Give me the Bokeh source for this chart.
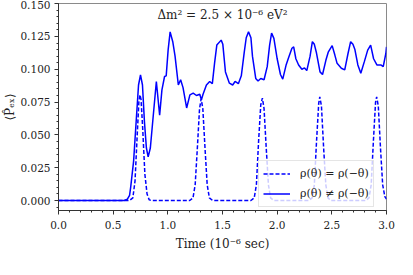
from bokeh.plotting import figure
from bokeh.models import Range1d, NumeralTickFormatter, Label, Legend, LegendItem, ColumnDataSource, SingleIntervalTicker
from bokeh.embed import file_html
from bokeh.resources import INLINE

# ---- data ----
t_sym = [0.0, 0.65, 0.68, 0.70, 0.72, 0.735, 0.745, 0.755, 0.77, 0.79, 0.81, 0.83, 0.86,
         1.20, 1.23, 1.25, 1.27, 1.29, 1.305, 1.32, 1.34, 1.36, 1.38, 1.41,
         1.76, 1.79, 1.81, 1.83, 1.85, 1.865, 1.88, 1.90, 1.92, 1.94, 1.97,
         2.29, 2.32, 2.34, 2.36, 2.38, 2.39, 2.405, 2.425, 2.445, 2.465, 2.49,
         2.81, 2.84, 2.86, 2.88, 2.90, 2.91, 2.925, 2.945, 2.965, 2.985, 3.0]
p_sym = [0.0, 0.0, 0.002, 0.015, 0.05, 0.075, 0.0805, 0.077, 0.055, 0.02, 0.005, 0.0005, 0.0,
         0.0, 0.002, 0.012, 0.04, 0.07, 0.0775, 0.07, 0.04, 0.012, 0.002, 0.0,
         0.0, 0.002, 0.012, 0.045, 0.073, 0.078, 0.07, 0.04, 0.012, 0.002, 0.0,
         0.0, 0.002, 0.012, 0.045, 0.074, 0.079, 0.072, 0.04, 0.012, 0.002, 0.0,
         0.0, 0.002, 0.012, 0.045, 0.075, 0.079, 0.072, 0.04, 0.012, 0.003, 0.001]

t_asym = [0.0, 0.60, 0.63, 0.65, 0.66, 0.687, 0.714, 0.732, 0.75, 0.768, 0.786, 0.804, 0.82,
          0.84, 0.867, 0.895, 0.925, 0.946, 0.97, 0.985, 1.003, 1.021, 1.045, 1.066, 1.096,
          1.117, 1.139, 1.172, 1.202, 1.232, 1.262, 1.292, 1.307, 1.322, 1.353, 1.383, 1.407,
          1.428, 1.448, 1.488, 1.503, 1.527, 1.563, 1.593, 1.615, 1.645, 1.672, 1.699, 1.717,
          1.738, 1.76, 1.774, 1.804, 1.825, 1.85, 1.88, 1.909, 1.931, 1.949, 1.97, 2.0, 2.03,
          2.051, 2.081, 2.105, 2.135, 2.151, 2.171, 2.196, 2.226, 2.25, 2.271, 2.301, 2.322,
          2.34, 2.358, 2.392, 2.415, 2.446, 2.467, 2.503, 2.527, 2.548, 2.587, 2.618, 2.648,
          2.672, 2.693, 2.711, 2.738, 2.765, 2.798, 2.828, 2.855, 2.882, 2.912, 2.948, 2.97,
          2.994, 3.0]
p_asym = [0.0, 0.0, 0.001, 0.004, 0.01, 0.03, 0.065, 0.088, 0.0957, 0.088, 0.06, 0.04, 0.0333,
          0.04, 0.065, 0.0907, 0.065, 0.0843, 0.0945, 0.095, 0.115, 0.1285, 0.121, 0.11, 0.088,
          0.092, 0.086, 0.0705, 0.0805, 0.0818, 0.080, 0.081, 0.0767, 0.081, 0.088, 0.0907, 0.089,
          0.105, 0.1184, 0.1222, 0.119, 0.098, 0.0894, 0.088, 0.0907, 0.089, 0.095, 0.113, 0.124,
          0.1285, 0.124, 0.11, 0.093, 0.091, 0.093, 0.092, 0.102, 0.1184, 0.1275, 0.1235, 0.108, 0.096,
          0.0925, 0.103, 0.109, 0.116, 0.117, 0.108, 0.1033, 0.100, 0.101, 0.099, 0.110, 0.121,
          0.119, 0.113, 0.098, 0.096, 0.107, 0.113, 0.118, 0.111, 0.1045, 0.1008, 0.0995, 0.112,
          0.121, 0.119, 0.115, 0.1033, 0.097, 0.106, 0.1146, 0.1184, 0.108, 0.1033, 0.1033, 0.102,
          0.112, 0.117]

label_sym = "ρ(θ) = ρ(−θ)"
label_asym = "ρ(θ) ≠ ρ(−θ)"
annotation = "Δm² = 2.5 × 10⁻⁶ eV²"
x_label = "Time (10⁻⁶ sec)"
y_label = "⟨P̂ₑₓ⟩"

FONT = "DejaVu Serif"
BLUE = "#0000ff"

p = figure(width=397, height=259, output_backend="svg", toolbar_location=None,
           x_range=Range1d(0, 3), y_range=Range1d(-0.0076, 0.1501),
           min_border_left=54, min_border_right=11, min_border_top=3, min_border_bottom=49)
p.grid.visible = False
p.outline_line_color = "#8a8a8a"
p.outline_line_width = 1

src_s = ColumnDataSource(dict(t=t_sym, p=p_sym))
src_a = ColumnDataSource(dict(t=t_asym, p=p_asym))
r_s = p.line("t", "p", source=src_s, line_color=BLUE, line_width=1.5, line_dash="4 2")
r_a = p.line("t", "p", source=src_a, line_color=BLUE, line_width=1.5)

p.xaxis[0].ticker = SingleIntervalTicker(interval=0.5, num_minor_ticks=5)
p.yaxis[0].ticker = SingleIntervalTicker(interval=0.025, num_minor_ticks=5)

for ax in (p.xaxis[0], p.yaxis[0]):
    ax.major_label_text_font = FONT
    ax.major_label_text_font_size = "10.5px"
    ax.major_label_text_color = "#222222"
    ax.axis_label_text_font = FONT
    ax.axis_label_text_font_size = "12px"
    ax.axis_label_text_font_style = "normal"
    ax.axis_label_text_color = "#222222"
    ax.axis_line_color = "#333333"
    ax.major_tick_line_color = "#333333"
    ax.minor_tick_line_color = "#333333"
    ax.major_tick_out = 4
    ax.major_tick_in = 0
    ax.minor_tick_out = 2
    ax.minor_tick_in = 0

p.xaxis[0].formatter = NumeralTickFormatter(format="0.0")
p.yaxis[0].formatter = NumeralTickFormatter(format="0.000")
p.xaxis[0].axis_label = x_label
p.yaxis[0].axis_label = y_label
p.xaxis[0].major_label_standoff = 6
p.xaxis[0].axis_label_standoff = 5
p.yaxis[0].major_label_standoff = 4
p.yaxis[0].axis_label_standoff = 0

p.add_layout(Label(x=1.5, y=0.141, text=annotation, text_align="center", text_baseline="middle",
                   text_font=FONT, text_font_size="12px", text_color="#222222"))

legend = Legend(items=[LegendItem(label=label_sym, renderers=[r_s]),
                       LegendItem(label=label_asym, renderers=[r_a])],
                location=(200, 3), label_text_font=FONT, label_text_font_size="11px",
                label_text_color="#222222", background_fill_alpha=0.8,
                border_line_color="#cccccc", border_line_width=1, padding=4, spacing=3,
                glyph_width=27, glyph_height=17, label_height=17, label_standoff=10, margin=0)
p.add_layout(legend)

open("out.html", "w").write(file_html(p, INLINE))
